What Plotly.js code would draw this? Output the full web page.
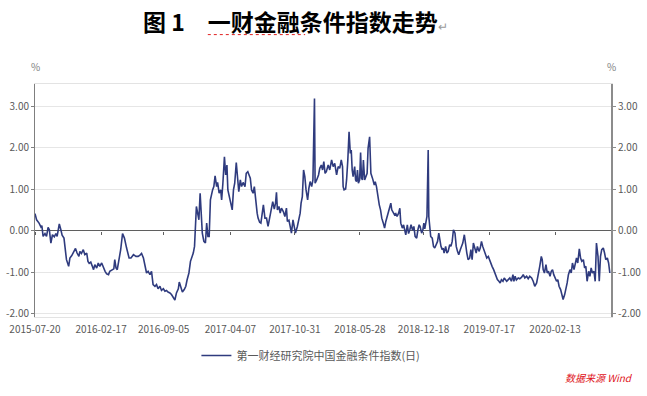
<!DOCTYPE html>
<html>
<head>
<meta charset="utf-8">
<script src="https://cdn.plot.ly/plotly-3.0.1.min.js"></script>
<style>html,body{margin:0;padding:0;background:#fff;}#chart{width:647px;height:396px;}</style>
</head>
<body>
<div id="chart"></div>
<script>
const seriesName = "第一财经研究院中国金融条件指数(日)";
const dates = [
"2015-07-20","2015-07-25","2015-08-02","2015-08-08","2015-08-11","2015-08-15","2015-08-21","2015-08-26","2015-08-31","2015-09-04",
"2015-09-09","2015-09-14","2015-09-20","2015-09-25","2015-09-29","2015-10-06","2015-10-11","2015-10-15","2015-10-21","2015-10-25",
"2015-10-29","2015-11-05","2015-11-09","2015-11-15","2015-11-23","2015-11-27","2015-12-02","2015-12-08","2015-12-11","2015-12-16",
"2015-12-22","2015-12-27","2016-01-02","2016-01-06","2016-01-10","2016-01-15","2016-01-20","2016-01-24","2016-01-28","2016-02-03",
"2016-02-08","2016-02-13","2016-02-19","2016-02-24","2016-03-01","2016-03-06","2016-03-12","2016-03-16","2016-03-24","2016-03-29",
"2016-04-01","2016-04-05","2016-04-09","2016-04-15","2016-04-20","2016-04-26","2016-05-02","2016-05-09","2016-05-17","2016-05-23",
"2016-05-31","2016-06-08","2016-06-15","2016-06-21","2016-06-26","2016-07-02","2016-07-07","2016-07-12","2016-07-17","2016-07-23",
"2016-07-28","2016-08-02","2016-08-08","2016-08-13","2016-08-18","2016-08-24","2016-08-29","2016-09-04","2016-09-09","2016-09-14",
"2016-09-19","2016-09-25","2016-09-30","2016-10-06","2016-10-11","2016-10-16","2016-10-22","2016-10-25","2016-10-30","2016-11-04",
"2016-11-10","2016-11-15","2016-11-19","2016-11-25","2016-11-30","2016-12-04","2016-12-09","2016-12-13","2016-12-16","2016-12-19",
"2016-12-23","2016-12-27","2016-12-31","2017-01-03","2017-01-07","2017-01-12","2017-01-17","2017-01-21","2017-01-25","2017-01-29",
"2017-02-02","2017-02-09","2017-02-13","2017-02-17","2017-02-22","2017-02-25","2017-03-02","2017-03-07","2017-03-10","2017-03-14",
"2017-03-19","2017-03-23","2017-03-27","2017-03-30","2017-04-05","2017-04-09","2017-04-13","2017-04-17","2017-04-21","2017-04-26",
"2017-04-30","2017-05-04","2017-05-09","2017-05-13","2017-05-18","2017-05-24","2017-05-28","2017-06-02","2017-06-06","2017-06-10",
"2017-06-14","2017-06-19","2017-06-23","2017-06-27","2017-07-02","2017-07-05","2017-07-10","2017-07-14","2017-07-18","2017-07-22",
"2017-07-27","2017-08-01","2017-08-06","2017-08-12","2017-08-17","2017-08-21","2017-08-26","2017-08-30","2017-09-02","2017-09-05",
"2017-09-10","2017-09-14","2017-09-18","2017-09-24","2017-09-29","2017-10-04","2017-10-07","2017-10-12","2017-10-16","2017-10-20",
"2017-10-25","2017-10-29","2017-11-02","2017-11-08","2017-11-13","2017-11-17","2017-11-20","2017-11-24","2017-11-28","2017-12-02",
"2017-12-06","2017-12-11","2017-12-15","2017-12-19","2017-12-24","2017-12-28","2018-01-02","2018-01-04","2018-01-09","2018-01-15",
"2018-01-19","2018-01-24","2018-01-28","2018-02-01","2018-02-05","2018-02-09","2018-02-15","2018-02-20","2018-02-26","2018-03-03",
"2018-03-08","2018-03-14","2018-03-19","2018-03-24","2018-03-29","2018-04-02","2018-04-04","2018-04-07","2018-04-12","2018-04-15",
"2018-04-19","2018-04-23","2018-04-27","2018-04-30","2018-05-03","2018-05-06","2018-05-11","2018-05-14","2018-05-17","2018-05-20",
"2018-05-23","2018-05-27","2018-05-30","2018-06-02","2018-06-05","2018-06-08","2018-06-12","2018-06-16","2018-06-20","2018-06-23",
"2018-06-28","2018-07-02","2018-07-04","2018-07-08","2018-07-13","2018-07-16","2018-07-20","2018-07-25","2018-07-29","2018-08-02",
"2018-08-06","2018-08-11","2018-08-15","2018-08-19","2018-08-23","2018-08-28","2018-09-02","2018-09-04","2018-09-07","2018-09-12",
"2018-09-16","2018-09-20","2018-09-24","2018-09-29","2018-10-03","2018-10-06","2018-10-11","2018-10-15","2018-10-19","2018-10-22",
"2018-10-27","2018-10-31","2018-11-04","2018-11-08","2018-11-13","2018-11-17","2018-11-21","2018-11-26","2018-11-30","2018-12-04",
"2018-12-07","2018-12-12","2018-12-16","2018-12-19","2018-12-22","2018-12-25","2018-12-29","2019-01-02","2019-01-04","2019-01-07",
"2019-01-10","2019-01-15","2019-01-19","2019-01-23","2019-01-28","2019-02-01","2019-02-05","2019-02-08","2019-02-12","2019-02-16",
"2019-02-19","2019-02-22","2019-02-27","2019-03-03","2019-03-07","2019-03-12","2019-03-16","2019-03-20","2019-03-24","2019-03-29",
"2019-04-02","2019-04-06","2019-04-10","2019-04-15","2019-04-19","2019-04-23","2019-04-28","2019-05-02","2019-05-06","2019-05-10",
"2019-05-15","2019-05-19","2019-05-23","2019-05-27","2019-06-01","2019-06-05","2019-06-09","2019-06-14","2019-06-18","2019-06-22",
"2019-06-26","2019-07-01","2019-07-05","2019-07-09","2019-07-14","2019-07-18","2019-07-22","2019-07-26","2019-07-31","2019-08-04",
"2019-08-08","2019-08-12","2019-08-17","2019-08-21","2019-08-25","2019-08-30","2019-09-03","2019-09-07","2019-09-11","2019-09-16",
"2019-09-21","2019-09-26","2019-10-01","2019-10-04","2019-10-08","2019-10-12","2019-10-18","2019-10-23","2019-10-29","2019-11-03",
"2019-11-08","2019-11-14","2019-11-19","2019-11-24","2019-11-30","2019-12-05","2019-12-10","2019-12-16","2019-12-21","2019-12-26",
"2019-12-31","2020-01-03","2020-01-06","2020-01-10","2020-01-15","2020-01-19","2020-01-23","2020-01-28","2020-02-01","2020-02-05",
"2020-02-09","2020-02-14","2020-02-18","2020-02-22","2020-02-26","2020-03-02","2020-03-06","2020-03-10","2020-03-15","2020-03-19",
"2020-03-23","2020-03-27","2020-04-01","2020-04-05","2020-04-09","2020-04-14","2020-04-18","2020-04-22","2020-04-26","2020-05-01",
"2020-05-05","2020-05-09","2020-05-14","2020-05-18","2020-05-22","2020-05-26","2020-05-31","2020-06-04","2020-06-08","2020-06-12",
"2020-06-17","2020-06-21","2020-06-25","2020-06-30","2020-07-04","2020-07-08","2020-07-12","2020-07-17","2020-07-21","2020-07-25",
"2020-07-30","2020-08-03","2020-08-07"
];
const values = [
0.41,0.26,0.18,0.09,0.12,-0.14,-0.07,-0.14,0.08,0.02,
-0.30,-0.10,-0.15,-0.07,-0.14,0.16,0.02,-0.11,-0.18,-0.54,
-0.70,-0.86,-0.66,-0.60,-0.48,-0.43,-0.54,-0.62,-0.50,-0.55,
-0.46,-0.58,-0.54,-0.74,-0.79,-0.76,-0.86,-0.94,-0.82,-0.90,
-0.78,-0.86,-0.78,-0.88,-0.98,-1.04,-1.06,-0.98,-0.94,-0.92,
-0.70,-0.90,-0.94,-0.70,-0.46,-0.07,-0.18,-0.42,-0.66,-0.66,
-0.58,-0.62,-0.62,-0.59,-0.55,-0.66,-0.86,-1.02,-0.98,-1.06,
-0.98,-1.30,-1.34,-1.30,-1.40,-1.34,-1.44,-1.40,-1.46,-1.44,
-1.48,-1.50,-1.54,-1.62,-1.67,-1.50,-1.40,-1.24,-1.38,-1.48,
-1.42,-1.34,-1.19,-1.02,-0.74,-0.66,-0.54,-0.38,0.18,0.58,
0.42,0.26,0.90,0.58,-0.06,-0.26,-0.30,0.18,-0.14,-0.14,
0.74,0.98,1.06,1.32,1.06,1.16,0.90,0.98,0.74,1.14,
1.78,1.34,1.58,0.98,0.74,0.58,0.50,0.98,1.14,1.64,
1.30,0.94,1.22,1.06,1.16,1.06,1.38,1.42,1.34,1.26,
0.98,0.90,1.06,0.74,0.42,0.30,0.20,0.18,0.38,0.62,
0.30,0.30,0.10,0.38,0.58,0.70,0.52,0.66,0.92,0.50,
0.58,0.42,0.54,0.46,0.34,0.54,0.22,0.25,0.10,-0.06,
0.26,0.10,-0.06,0.10,0.30,0.42,0.66,0.82,1.46,1.30,
0.98,0.74,1.02,1.18,1.06,1.22,3.18,1.14,1.22,1.34,
1.50,1.58,1.46,1.66,1.38,1.42,1.58,1.46,1.70,1.54,
1.62,1.34,1.54,1.50,1.70,1.54,1.06,0.98,1.00,1.22,
1.70,2.38,1.86,1.94,1.46,1.30,1.54,1.22,1.18,1.46,
1.14,1.22,1.88,1.26,1.22,1.70,1.22,1.30,1.38,1.98,
2.26,1.38,1.34,1.24,1.10,1.18,1.06,0.74,0.62,0.50,
0.30,0.18,0.06,0.22,0.34,0.46,0.58,0.66,0.50,0.44,
0.38,0.41,0.34,0.42,0.54,0.18,0.06,0.14,-0.02,-0.10,
0.14,-0.07,0.02,0.14,0.01,0.10,-0.14,-0.18,0.02,0.14,
0.10,-0.06,0.02,0.18,0.04,0.14,0.34,1.94,0.34,0.10,
-0.14,-0.18,-0.38,-0.42,-0.30,-0.26,-0.06,-0.22,-0.38,-0.46,
-0.42,-0.54,-0.38,-0.54,-0.50,-0.34,-0.38,-0.26,0.02,-0.06,
-0.38,-0.50,-0.58,-0.46,-0.38,-0.30,-0.10,-0.38,-0.54,-0.70,
-0.66,-0.46,-0.70,-0.30,-0.42,-0.54,-0.38,-0.50,-0.42,-0.26,
-0.38,-0.50,-0.54,-0.66,-0.62,-0.70,-0.82,-0.86,-0.94,-1.02,
-1.10,-1.18,-1.22,-1.26,-1.18,-1.22,-1.14,-1.18,-1.22,-1.18,
-1.14,-1.22,-1.06,-1.22,-1.10,-1.19,-1.14,-1.16,-1.12,-1.06,
-1.14,-1.10,-1.16,-1.10,-1.14,-1.22,-1.34,-1.26,-1.10,-0.86,
-0.62,-0.70,-0.94,-1.02,-0.82,-1.02,-0.98,-1.10,-0.98,-0.94,
-1.06,-1.18,-1.22,-1.18,-1.34,-1.42,-1.54,-1.66,-1.54,-1.42,
-1.26,-1.06,-0.94,-1.02,-0.78,-0.94,-0.82,-0.66,-0.78,-0.44,
-0.66,-0.74,-0.70,-0.90,-0.86,-1.22,-0.98,-1.10,-0.90,-1.02,
-0.98,-1.22,-0.30,-0.62,-1.22,-0.62,-0.46,-0.42,-0.54,-0.70,
-0.66,-0.78,-1.02
];
const xTickVals = ["2015-07-20","2016-02-17","2016-09-05","2017-04-07","2017-10-31","2018-05-28","2018-12-18","2019-07-17","2020-02-13"];
const xTickText = ["2015-07-20","2016-02-17","2016-09-05","2017-04-07","2017-10-31","2018-05-28","2018-12-18","2019-07-17","2020-02-13"];
const yTickVals = [-2, -1, 0, 1, 2, 3];
const yTickText = ["-2.00", "-1.00", "0.00", "1.00", "2.00", "3.00"];
const titleText = "图 1　一财金融条件指数走势";
const sourceText = "数据来源 Wind";
const unitText = "%";

const xRange = ["2015-07-20", "2020-08-10 17:00"];
const yRange = [-2.08, 3.53];
const zeroPos = (0 - yRange[0]) / (yRange[1] - yRange[0]);
const FONT = "Noto Sans CJK SC, Noto Sans, sans-serif";
const tickFont = {family: FONT, size: 10, color: "#595959"};

const traces = [
  {x: dates, y: values, type: "scatter", mode: "lines", name: seriesName,
   line: {color: "#2f3b7e", width: 1.6}, xaxis: "x", yaxis: "y"},
  {x: [dates[0]], y: [values[0]], type: "scatter", mode: "markers", marker: {opacity: 0},
   showlegend: false, hoverinfo: "skip", xaxis: "x2", yaxis: "y2"}
];

const layout = {
  width: 647, height: 396,
  margin: {l: 35, r: 36, t: 84, b: 79},
  paper_bgcolor: "#ffffff", plot_bgcolor: "#ffffff",
  title: {
    text: titleText + '<span style="font-size:12px;color:#9a9a9a;font-weight:normal">↵</span>',
    x: 143 / 647, xanchor: "left", xref: "container",
    y: 1 - 23 / 396, yanchor: "middle", yref: "container",
    font: {family: FONT, size: 23, color: "#000000", weight: "bold"}
  },
  xaxis: {
    type: "date", range: xRange, tickvals: xTickVals, ticktext: xTickText,
    ticks: "", showgrid: false, zeroline: false, showline: true, mirror: true,
    linecolor: "#e3e3e3", linewidth: 1, tickfont: tickFont, tickangle: 0,
    ticklabelstandoff: 3
  },
  xaxis2: {
    type: "date", range: xRange, tickvals: xTickVals, overlaying: "x", anchor: "free",
    position: zeroPos, ticks: "outside", ticklen: 3, tickcolor: "#5f5f5f",
    showticklabels: false, showgrid: false, zeroline: false, showline: false
  },
  yaxis: {
    range: yRange, tickvals: yTickVals, ticktext: yTickText,
    ticks: "outside", ticklen: 3, tickcolor: "#7f7f7f", showline: true,
    linecolor: "#7f7f7f", linewidth: 1, gridcolor: "#e6e6e6", gridwidth: 1,
    zeroline: true, zerolinecolor: "#5f5f5f", zerolinewidth: 1, tickfont: tickFont
  },
  yaxis2: {
    range: yRange, tickvals: yTickVals, ticktext: yTickText, overlaying: "y",
    side: "right", anchor: "x", ticks: "outside", ticklen: 3, tickcolor: "#8c8c8c",
    showline: true, linecolor: "#8c8c8c", linewidth: 2, showgrid: false,
    zeroline: false, tickfont: tickFont
  },
  showlegend: true,
  legend: {
    orientation: "h", x: 0.479, xanchor: "center", y: -0.165, yanchor: "middle",
    font: {family: FONT, size: 11, color: "#595959"}, bgcolor: "rgba(0,0,0,0)"
  },
  annotations: [
    {text: unitText, xref: "paper", yref: "paper", x: 0, y: 1.073, showarrow: false,
     xanchor: "center", yanchor: "middle", font: {family: FONT, size: 10, color: "#7f7f7f"}},
    {text: unitText, xref: "paper", yref: "paper", x: 1, y: 1.073, showarrow: false,
     xanchor: "center", yanchor: "middle", font: {family: FONT, size: 10, color: "#7f7f7f"}},
    {text: "<i>" + sourceText + "</i>", xref: "paper", yref: "paper", x: 1.042, y: -0.259,
     showarrow: false, xanchor: "right", yanchor: "middle",
     font: {family: FONT, size: 10, color: "#e0141b"}}
  ],
  shapes: [
    {type: "line", xref: "paper", yref: "paper", x0: 0.300, x1: 0.469, y0: 1.212, y1: 1.212,
     line: {color: "#e02020", width: 1, dash: "dot"}}
  ]
};

Plotly.newPlot("chart", traces, layout, {displayModeBar: false, staticPlot: true});
</script>
</body>
</html>
